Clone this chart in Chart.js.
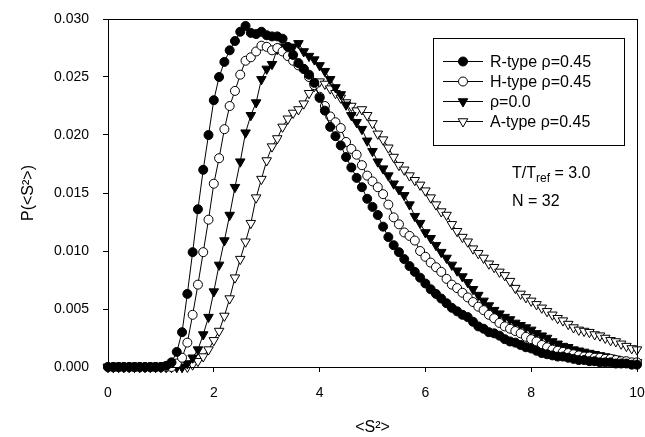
<!DOCTYPE html>
<html>
<head>
<meta charset="utf-8">
<script src="https://cdn.jsdelivr.net/npm/chart.js@4.4.1/dist/chart.umd.min.js"></script>
<style>
  body { margin: 0; background: #fff; }
</style>
</head>
<body>
<canvas id="grafico" width="645" height="437"></canvas>
<script>
// valores de <S^2> (paso 0.1)
const xs = [
  0.0, 0.1, 0.2, 0.3, 0.4, 0.5, 0.6, 0.7, 0.8, 0.9,
  1.0, 1.1, 1.2, 1.3, 1.4, 1.5, 1.6, 1.7, 1.8, 1.9,
  2.0, 2.1, 2.2, 2.3, 2.4, 2.5, 2.6, 2.7, 2.8, 2.9,
  3.0, 3.1, 3.2, 3.3, 3.4, 3.5, 3.6, 3.7, 3.8, 3.9,
  4.0, 4.1, 4.2, 4.3, 4.4, 4.5, 4.6, 4.7, 4.8, 4.9,
  5.0, 5.1, 5.2, 5.3, 5.4, 5.5, 5.6, 5.7, 5.8, 5.9,
  6.0, 6.1, 6.2, 6.3, 6.4, 6.5, 6.6, 6.7, 6.8, 6.9,
  7.0, 7.1, 7.2, 7.3, 7.4, 7.5, 7.6, 7.7, 7.8, 7.9,
  8.0, 8.1, 8.2, 8.3, 8.4, 8.5, 8.6, 8.7, 8.8, 8.9,
  9.0, 9.1, 9.2, 9.3, 9.4, 9.5, 9.6, 9.7, 9.8, 9.9,
  10.0
];

const rType = [
  0, 0, 0, 0, 0, 0, 0, 0, 0, 0,
  0, .0001, .0004, .0013, .0030, .0063, .0099, .0136, .0170, .0200,
  .0230, .0250, .0263, .0273, .0281, .0289, .0294, .0288, .0287, .0289,
  .0286, .0285, .0285, .0283, .0276, .0269, .0262, .0257, .0252, .0245,
  .0232, .0221, .0207, .0199, .0191, .0181, .0172, .0163, .0155, .0145,
  .0138, .0131, .0121, .0112, .0105, .0099, .0093, .0087, .0082, .0077,
  .0072, .0067, .0063, .0059, .0055, .0051, .0048, .0045, .0043, .0039,
  .0035, .0033, .0030, .0029, .0027, .0024, .0022, .0021, .0019, .0017,
  .0016, .0014, .0012, .0011, .0010, .0009, .0009, .0008, .0007, .0006,
  .0006, .0005, .0005, .0004, .0004, .0004, .0003, .0003, .0003, .0002,
  .0002
];

const hType = [
  0, 0, 0, 0, 0, 0, 0, 0, 0, 0,
  0, 0, 0, .0003, .0008, .0021, .0045, .0071, .0099, .0127,
  .0158, .0180, .0205, .0225, .0238, .0252, .0264, .0267, .0272, .0277,
  .0276, .0273, .0275, .0272, .0268, .0264, .0260, .0257, .0250, .0243,
  .0233, .0225, .0216, .0211, .0206, .0194, .0188, .0183, .0174, .0165,
  .0160, .0155, .0149, .0140, .0129, .0123, .0116, .0113, .0109, .0100,
  .0095, .0090, .0086, .0082, .0076, .0071, .0068, .0064, .0060, .0056,
  .0052, .0049, .0045, .0042, .0038, .0035, .0033, .0031, .0029, .0026,
  .0024, .0022, .0019, .0017, .0015, .0014, .0013, .0012, .0011, .0010,
  .0009, .0009, .0008, .0008, .0007, .0007, .0006, .0005, .0005, .0004,
  .0004
];

const rho0 = [
  0, 0, 0, 0, 0, 0, 0, 0, 0, 0,
  0, 0, 0, 0, 0, .0003, .0008, .0015, .0028, .0043,
  .0065, .0088, .0109, .0131, .0155, .0177, .0202, .0217, .0228, .0248,
  .0257, .0261, .0274, .0276, .0275, .0276, .0279, .0272, .0268, .0265,
  .0260, .0255, .0248, .0241, .0235, .0226, .0217, .0211, .0205, .0195,
  .0186, .0177, .0171, .0165, .0158, .0153, .0148, .0140, .0130, .0124,
  .0116, .0111, .0105, .0099, .0094, .0088, .0083, .0078, .0073, .0067,
  .0062, .0057, .0053, .0049, .0046, .0043, .0041, .0038, .0036, .0034,
  .0032, .0029, .0027, .0025, .0022, .0020, .0018, .0017, .0015, .0014,
  .0013, .0012, .0011, .0010, .0009, .0008, .0007, .0006, .0005, .0005,
  .0004
];

const aType = [
  0, 0, 0, 0, 0, 0, 0, 0, 0, 0,
  0, 0, 0, 0, 0, 0, .0002, .0005, .0009, .0015,
  .0023, .0031, .0044, .0059, .0077, .0093, .0108, .0124, .0146, .0162,
  .0178, .0190, .0197, .0207, .0214, .0219, .0222, .0227, .0236, .0242,
  .0246, .0244, .0240, .0236, .0232, .0228, .0225, .0221, .0222, .0217,
  .0210, .0201, .0196, .0189, .0181, .0174, .0170, .0165, .0161, .0157,
  .0152, .0146, .0140, .0134, .0131, .0123, .0117, .0112, .0108, .0102,
  .0098, .0094, .0089, .0086, .0082, .0079, .0074, .0068, .0063, .0060,
  .0057, .0054, .0051, .0048, .0045, .0042, .0040, .0037, .0034, .0032,
  .0031, .0030, .0028, .0027, .0025, .0023, .0022, .0020, .0018, .0016,
  .0015
];

const etiquetas = ["R-type \u03C1=0.45", "H-type \u03C1=0.45", "\u03C1=0.0", "A-type \u03C1=0.45"];
const xTicks = [0, 2, 4, 6, 8, 10];
const yTicks = [0, 0.005, 0.010, 0.015, 0.020, 0.025, 0.030];

const fuente = "'Liberation Sans', Arial, Helvetica, sans-serif";
Chart.defaults.font.family = fuente;
Chart.defaults.color = '#000';

function serie(label, ys, estilo, relleno) {
  return {
    label: label,
    data: xs.map((x, i) => ({ x: x, y: ys[i] })),
    borderColor: '#000',
    borderWidth: 1,
    backgroundColor: relleno,
    pointBackgroundColor: relleno,
    pointBorderColor: '#000',
    pointBorderWidth: 1,
    pointStyle: estilo,
    pointRotation: estilo === 'triangle' ? 180 : 0,
    pointRadius: estilo === 'triangle' ? 5.5 : 4.5,
    tension: 0,
    fill: false,
    clip: false
  };
}

// marco, leyenda y textos
const extras = {
  id: 'extras',
  afterDraw(chart) {
    const ctx = chart.ctx;
    const a = chart.chartArea;
    ctx.save();
    ctx.strokeStyle = '#000';
    ctx.lineWidth = 1;
    ctx.strokeRect(Math.round(a.left) + 0.5, Math.round(a.top) + 0.5, Math.round(a.right - a.left), Math.round(a.bottom - a.top));

    // leyenda
    const bx = a.right - 204, by = a.top + 19, bw = 191, bh = 107;
    ctx.fillStyle = '#fff';
    ctx.fillRect(bx, by, bw, bh);
    ctx.strokeRect(Math.round(bx) + 0.5, Math.round(by) + 0.5, bw, bh);
    chart.data.datasets.forEach((ds, i) => {
      const yy = by + 23.5 + i * 20;
      ctx.beginPath();
      ctx.moveTo(bx + 10, yy);
      ctx.lineTo(bx + 50, yy);
      ctx.strokeStyle = '#000';
      ctx.lineWidth = 1;
      ctx.stroke();
      ctx.fillStyle = ds.pointBackgroundColor;
      ctx.strokeStyle = '#000';
      Chart.helpers.drawPoint(ctx, {
        pointStyle: ds.pointStyle,
        radius: ds.pointRadius,
        rotation: ds.pointRotation,
        borderWidth: 1
      }, bx + 30, yy);
      ctx.fillStyle = '#000';
      ctx.font = '16px ' + fuente;
      ctx.textBaseline = 'middle';
      ctx.textAlign = 'left';
      ctx.fillText(ds.label, bx + 57, yy + 1);
    });

    // T/Tref y N
    ctx.fillStyle = '#000';
    ctx.textBaseline = 'alphabetic';
    ctx.font = '16px ' + fuente;
    let tx = 512;
    ctx.fillText('T/T', tx, 178);
    tx += ctx.measureText('T/T').width;
    ctx.font = '12px ' + fuente;
    ctx.fillText('ref', tx, 182);
    tx += ctx.measureText('ref').width;
    ctx.font = '16px ' + fuente;
    ctx.fillText(' = 3.0', tx, 178);
    ctx.fillText('N = 32', 512, 206);
    ctx.restore();
  }
};

new Chart(document.getElementById('grafico'), {
  type: 'line',
  data: {
    datasets: [
      serie(etiquetas[0], rType, 'circle', '#000'),
      serie(etiquetas[1], hType, 'circle', '#fff'),
      serie(etiquetas[2], rho0, 'triangle', '#000'),
      serie(etiquetas[3], aType, 'triangle', '#fff')
    ]
  },
  options: {
    responsive: false,
    animation: false,
    layout: { padding: { left: 0, top: 19, right: 8, bottom: 0 } },
    plugins: {
      legend: { display: false },
      tooltip: { enabled: false }
    },
    scales: {
      x: {
        type: 'linear',
        min: 0,
        max: 10,
        afterBuildTicks: s => { s.ticks = xTicks.map(v => ({ value: v })); },
        ticks: { color: '#000', font: { size: 14 }, padding: 13, maxRotation: 0 },
        grid: { drawOnChartArea: false, color: '#000', tickLength: 5 },
        border: { color: '#000', width: 1 },
        title: { display: true, text: '<S\u00B2>', color: '#000', font: { size: 16 }, padding: { top: 0, bottom: 0 } },
        afterFit: s => { s.height = 70; s.paddingLeft = 0; s.paddingRight = 0; }
      },
      y: {
        min: 0,
        max: 0.030,
        afterBuildTicks: s => { s.ticks = yTicks.map(v => ({ value: v })); },
        ticks: { color: '#000', font: { size: 14 }, padding: 14, callback: v => v.toFixed(3) },
        grid: { drawOnChartArea: false, color: '#000', tickLength: 5 },
        border: { color: '#000', width: 1 },
        title: { display: true, text: 'P(<S\u00B2>)', color: '#000', font: { size: 16 }, padding: { top: 19, bottom: 0 } },
        afterFit: s => { s.width = 108; s.paddingTop = 0; s.paddingBottom = 0; }
      }
    }
  },
  plugins: [extras]
});
</script>
</body>
</html>
